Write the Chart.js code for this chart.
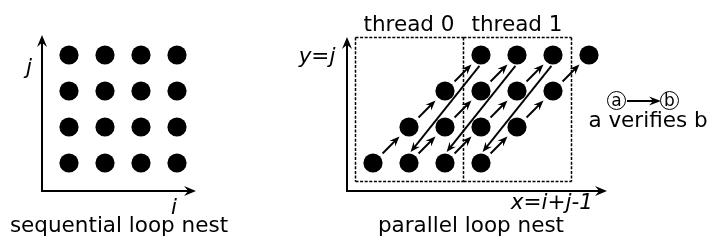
<!DOCTYPE html>
<html><head><meta charset="utf-8">
<script src="https://cdn.jsdelivr.net/npm/chart.js@4/dist/chart.umd.min.js"></script>
<style>
html,body{margin:0;padding:0;background:#fff;}
#wrap{position:relative;width:707px;height:240px;overflow:hidden;font-family:"DejaVu Sans",sans-serif;color:#000;}
canvas{position:absolute;left:0;top:0;}
.t{position:absolute;font-size:21.5px;line-height:21px;white-space:nowrap;}
.ctr{transform:translateX(-50%);}
.it{font-style:italic;}
.circ{position:absolute;width:17px;height:17px;border:1.6px solid #000;border-radius:50%;font-size:17px;line-height:16px;text-align:center;}
</style></head><body>
<div id="wrap">
<canvas id="c1" width="707" height="240"></canvas>
<canvas id="c2" width="707" height="240"></canvas>
<div class="t it ctr" style="left:29px;top:56px;">j</div>
<div class="t it ctr" style="left:174px;top:196px;">i</div>
<div class="t ctr" style="left:119px;top:214px;">sequential loop nest</div>
<div class="t it ctr" style="left:317px;top:45px;">y=j</div>
<div class="t it" style="right:114px;top:191px;">x=i+j-1</div>
<div class="t ctr" style="left:471px;top:214px;">parallel loop nest</div>
<div id="th0" class="t ctr" style="left:409px;top:13px;"></div>
<div id="th1" class="t ctr" style="left:517px;top:13px;"></div>
<div class="circ" style="left:607px;top:91px;">a</div>
<div class="circ" style="left:660px;top:91px;">b</div>
<div class="t ctr" style="left:648px;top:109px;">a verifies b</div>
</div>
<script>
// ---- data ----
const seqX = [1,2,3,4, 1,2,3,4, 1,2,3,4, 1,2,3,4];
const seqY = [1,1,1,1, 2,2,2,2, 3,3,3,3, 4,4,4,4];
const parX = [1,2,3,4, 2,3,4,5, 3,4,5,6, 4,5,6,7];
const parY = [1,1,1,1, 2,2,2,2, 3,3,3,3, 4,4,4,4];
const stepFrom = [[1,1],[2,2],[3,3],[2,1],[3,2],[4,3],[3,1],[4,2],[5,3],[4,1],[5,2],[6,3]];
const stepTo   = [[2,2],[3,3],[4,4],[3,2],[4,3],[5,4],[4,2],[5,3],[6,4],[5,2],[6,3],[7,4]];
const jumpFrom = [[4,4],[5,4],[6,4]];
const jumpTo   = [[2,1],[3,1],[4,1]];
const threadNames = ['thread 0','thread 1'];
const threadX = [[0.5,3.5],[3.5,6.5]];
const threadY = [0.5,4.5];

function arrow(ctx,x1,y1,x2,y2,len,half,lw){
  const dx=x2-x1, dy=y2-y1, L=Math.hypot(dx,dy), ux=dx/L, uy=dy/L, px=-uy, py=ux;
  ctx.save(); ctx.lineWidth=lw; ctx.strokeStyle='#000'; ctx.fillStyle='#000'; ctx.setLineDash([]);
  ctx.beginPath(); ctx.moveTo(x1,y1); ctx.lineTo(x2-ux*len*0.6,y2-uy*len*0.6); ctx.stroke();
  ctx.beginPath();
  ctx.moveTo(x2,y2);
  ctx.lineTo(x2-ux*len+px*half,y2-uy*len+py*half);
  ctx.lineTo(x2-ux*len*0.65,y2-uy*len*0.65);
  ctx.lineTo(x2-ux*len-px*half,y2-uy*len-py*half);
  ctx.closePath(); ctx.fill();
  ctx.restore();
}
function drawAxes(chart){
  const ctx=chart.ctx, ca=chart.chartArea;
  arrow(ctx,ca.left,ca.bottom+1,ca.left,ca.top,12,5,2);
  arrow(ctx,ca.left-1,ca.bottom,ca.right,ca.bottom,12,5,2);
}
const pts=(xs,ys)=>xs.map((x,k)=>({x:x,y:ys[k]}));
function baseOptions(pad,xr,yr){
  return {
    responsive:false, animation:false, events:[],
    layout:{padding:pad},
    plugins:{legend:{display:false},tooltip:{enabled:false}},
    scales:{
      x:{type:'linear',display:false,min:xr[0],max:xr[1]},
      y:{type:'linear',display:false,min:yr[0],max:yr[1]}
    }
  };
}
const dotStyle={pointRadius:9.6,pointBackgroundColor:'#000',pointBorderWidth:0,showLine:false,clip:false};

new Chart(document.getElementById('c1'),{
  type:'scatter',
  data:{datasets:[Object.assign({data:pts(seqX,seqY)},dotStyle)]},
  options:baseOptions({left:42,right:707-196,top:35,bottom:240-191},[0.25,4.5278],[0.2222,4.5556]),
  plugins:[{id:'ax1',afterDraw:drawAxes}]
});

const c2=new Chart(document.getElementById('c2'),{
  type:'scatter',
  data:{datasets:[Object.assign({data:pts(parX,parY)},dotStyle)]},
  options:baseOptions({left:347,right:707-607,top:37,bottom:240-191},[0.2778,7.5],[0.2222,4.5]),
  plugins:[{
    id:'par',
    beforeDatasetsDraw(chart){
      const ctx=chart.ctx, sx=chart.scales.x, sy=chart.scales.y;
      ctx.save(); ctx.lineWidth=1.5; ctx.strokeStyle='#000'; ctx.setLineDash([3,1.6]);
      const yT=Math.round(sy.getPixelForValue(threadY[1]))+0.5, yB=Math.round(sy.getPixelForValue(threadY[0]))+0.5;
      const seen=new Set();
      const seg=(a,b,c,d)=>{ctx.beginPath();ctx.moveTo(a,b);ctx.lineTo(c,d);ctx.stroke();};
      threadX.forEach(r=>{
        const x0=Math.round(sx.getPixelForValue(r[0]))+0.5, x1=Math.round(sx.getPixelForValue(r[1]))+0.5;
        seg(x0,yT,x1,yT); seg(x0,yB,x1,yB);
        [x0,x1].forEach(x=>{ if(!seen.has(x)){ seen.add(x); seg(x,yT,x,yB); } });
      });
      ctx.restore();
    },
    afterDatasetsDraw(chart){
      const ctx=chart.ctx, sx=chart.scales.x, sy=chart.scales.y, R=9;
      stepFrom.forEach((f,k)=>{
        const t=stepTo[k];
        const ax=sx.getPixelForValue(f[0]), ay=sy.getPixelForValue(f[1]);
        const bx=sx.getPixelForValue(t[0]), by=sy.getPixelForValue(t[1]);
        const L=Math.hypot(bx-ax,by-ay), ux=(bx-ax)/L, uy=(by-ay)/L, s=13.5;
        arrow(ctx,ax+ux*s,ay+uy*s,bx-ux*s,by-uy*s,10,4,1.9);
      });
      jumpFrom.forEach((f,k)=>{
        const t=jumpTo[k];
        const ax=sx.getPixelForValue(f[0]), ay=sy.getPixelForValue(f[1])+R;
        const bx=sx.getPixelForValue(t[0]), by=sy.getPixelForValue(t[1])-R;
        const L=Math.hypot(bx-ax,by-ay), ux=(bx-ax)/L, uy=(by-ay)/L, s=2.5;
        arrow(ctx,ax+ux*s,ay+uy*s,bx-ux*s,by-uy*s,10,4,1.9);
      });
    },
    afterDraw(chart){
      drawAxes(chart);
      arrow(chart.ctx,627,101,661,101,12,4.5,2);
    }
  }]
});
threadNames.forEach((n,k)=>{
  const el=document.getElementById('th'+k);
  el.textContent=n;
  el.style.left=c2.scales.x.getPixelForValue((threadX[k][0]+threadX[k][1])/2)+'px';
});
</script>
</body></html>
